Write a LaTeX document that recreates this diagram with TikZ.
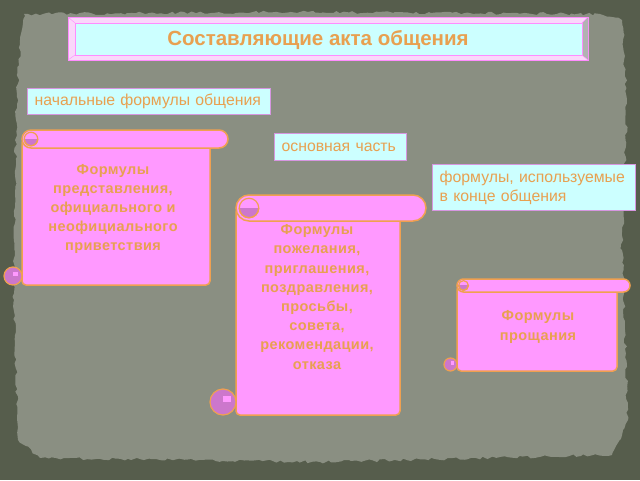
\documentclass[tikz,border=0pt]{standalone}
\usepackage{fontspec}
\setmainfont{Liberation Sans}
\newfontfamily\scrollfont[LetterSpace=3]{Liberation Sans}
\usetikzlibrary{decorations.pathmorphing}

\definecolor{darkbg}{RGB}{86,93,76}
\definecolor{paperbg}{RGB}{138,143,130}
\definecolor{txtorange}{RGB}{232,160,80}
\definecolor{sheetpink}{RGB}{255,153,255}
\definecolor{sheetedge}{RGB}{240,160,80}
\definecolor{curlviolet}{RGB}{204,119,204}
\definecolor{boxcyan}{RGB}{204,255,255}
\definecolor{boxedge}{RGB}{214,150,224}
\definecolor{framepink}{RGB}{255,140,255}
\definecolor{framelight}{RGB}{250,215,250}

\tikzset{
  sheet/.style={fill=sheetpink, draw=sheetedge, line width=1.5pt},
  curl/.style={fill=curlviolet, draw=sheetedge, line width=1.2pt},
  sheettext/.style={align=center, text=txtorange,
    font=\scrollfont\bfseries\fontsize{14.5}{19.2}\selectfont},
  labelbox/.style={fill=boxcyan, draw=boxedge, line width=1.3pt, anchor=north west,
    inner xsep=7pt, align=left, text=txtorange, font=\fontsize{15.8}{19}\selectfont}
}

% scroll: left, top, right, bottom, roll radius
\newcommand\scrollsheet[5]{%
  \filldraw[sheet, rounded corners=4pt] (#1,#2+#5) rectangle (#3,#4);
  \filldraw[curl] (#1-#5,#4-#5) circle (#5);
  \fill[sheetpink] (#1-#5,#4-#5) rectangle (#1-0.4*#5,#4-1.5*#5);
  \filldraw[sheet, rounded corners=#5pt] (#1,#2) rectangle (#3+2*#5,#2+2*#5);
  \begin{scope}
    \clip (#1,#2+#5) rectangle (#1+2*#5,#2+2*#5);
    \filldraw[curl] (#1+#5,#2+#5) circle (0.75*#5);
  \end{scope}
  \draw[sheetedge, line width=1.2pt] (#1+#5,#2+#5) circle (0.75*#5);
}

\begin{document}
\begin{tikzpicture}[x=1pt, y=-1pt]
  \fill[darkbg] (0,0) rectangle (640,480);
  \fill[paperbg, decorate, decoration={random steps, segment length=4pt, amplitude=1.5pt}]
    (24,14) -- (300,12) -- (600,14) -- (622,20) -- (627,100) -- (622,250)
    -- (628,420) -- (612,455) -- (320,462) -- (40,458) -- (18,440)
    -- (14,300) -- (16,120) -- (20,40) -- cycle;

  % title frame
  \filldraw[framelight, draw=framepink, line width=1pt] (68,17) rectangle (588,60);
  \fill[gray!60] (582,23) -- (588,17) -- (588,60) -- (582,55) -- cycle;
  \filldraw[boxcyan, draw=framepink, line width=1pt] (75,23) rectangle (582,55);
  \draw[framepink] (68,17) -- (75,23) (588,17) -- (582,23)
    (68,60) -- (75,55) (588,60) -- (582,55);
  \node[text=txtorange, font=\bfseries\fontsize{20.5}{24}\selectfont] (title) at (318,40) {Составляющие акта общения};

  % stage labels
  \node[labelbox, minimum width=243pt, minimum height=26pt, text width=229pt] (opening) at (27,88) {начальные формулы общения};
  \node[labelbox, minimum width=132pt, minimum height=27pt, text width=118pt] (mainpart) at (274,133) {основная часть};
  \node[labelbox, minimum width=203pt, minimum height=46pt, text width=189pt] (closing) at (432,164) {формулы, используемые\\в конце общения};

  % scrolls
  \scrollsheet{22}{130}{210}{285}{9}
  \scrollsheet{236}{195}{400}{415}{13}
  \scrollsheet{457}{279}{617}{371}{6.5}

  \node[sheettext] (greet) at (113,209) {Формулы\\представления,\\официального и\\неофициального\\приветствия};
  \node[sheettext] (wishes) at (317,297) {Формулы\\пожелания,\\ приглашения,\\поздравления,\\просьбы,\\совета,\\рекомендации,\\отказа};
  \node[sheettext] (farewell) at (538,327) {Формулы\\прощания};
\end{tikzpicture}
\end{document}
